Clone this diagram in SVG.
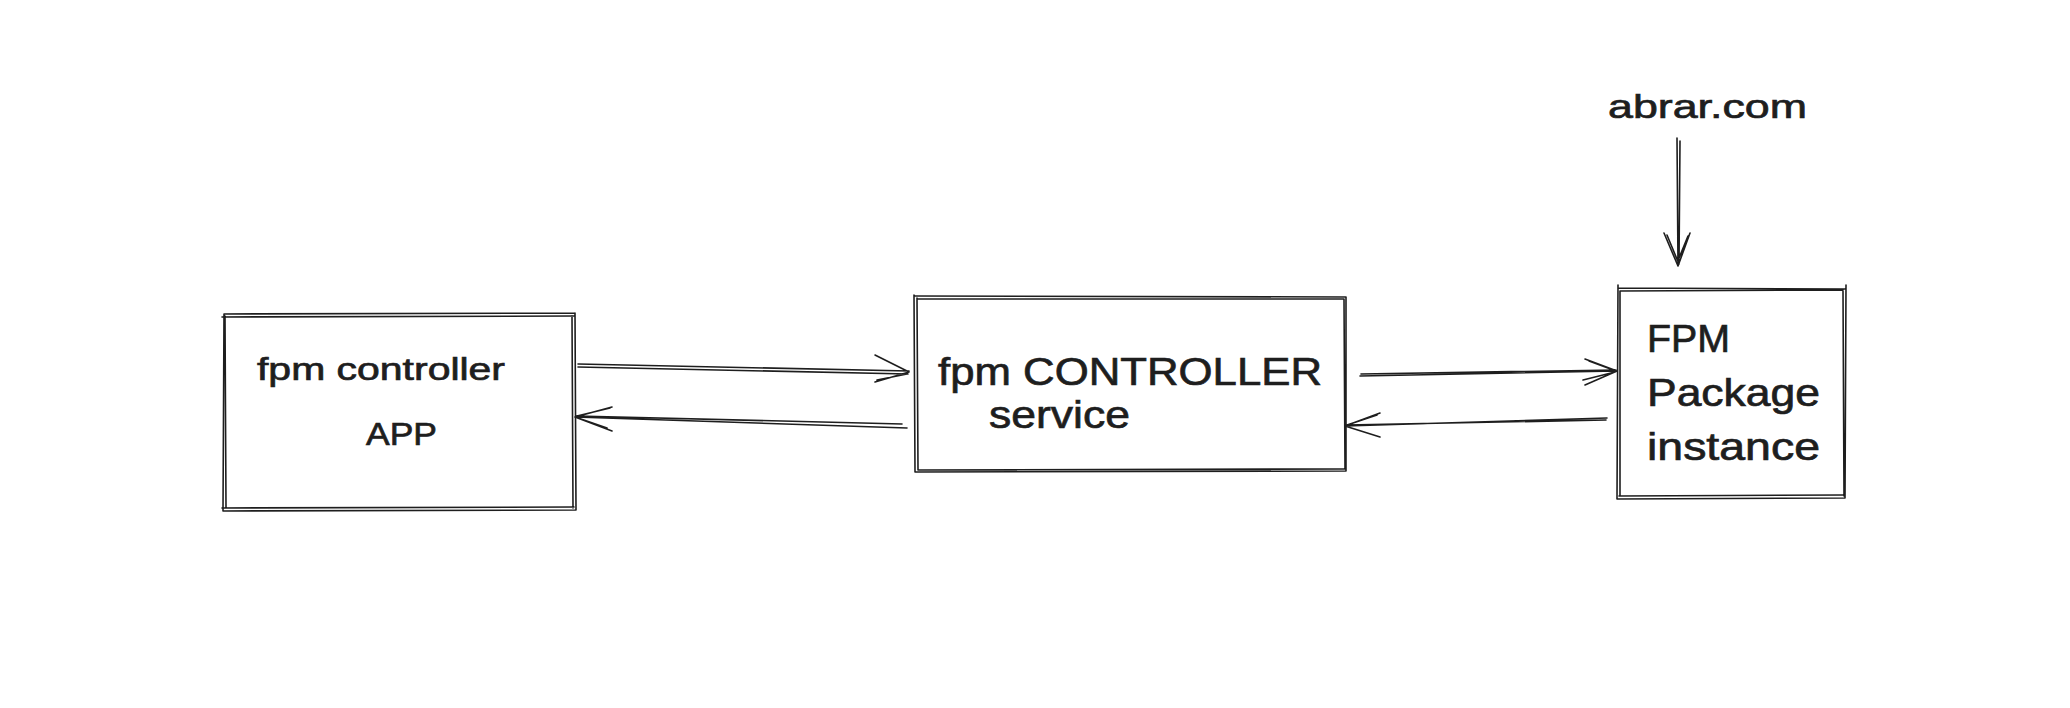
<svg xmlns="http://www.w3.org/2000/svg" width="2070" height="708" viewBox="0 0 2070 708">
<style>
.s{fill:none;stroke:#1e1e1e;stroke-width:1.6;stroke-linecap:round;stroke-linejoin:round}
.t{font-family:"Liberation Sans","DejaVu Sans",sans-serif;fill:#1e1e1e;stroke:#1e1e1e;stroke-width:0.7}
</style>
<rect x="0" y="0" width="2070" height="708" fill="#ffffff"/>
<g id="node-app">
<path class="s" d="M224 314 L575 313 M222 317 L574 316 M575 313 L576 510 M572 316 L573 508 M576 510 L223 511 M574 507 L222 508 M223 511 L224 314 M226 508 L225 316"/>
<text class="t" x="257" y="380" font-size="31" textLength="248" lengthAdjust="spacingAndGlyphs">fpm controller</text>
<text class="t" x="366" y="445" font-size="32" textLength="71" lengthAdjust="spacingAndGlyphs">APP</text>
</g>
<g id="node-service">
<path class="s" d="M915 296 L1346 297 M917 299 L1344 299 M1346 297 L1346 471 M1344 299 L1345 469 M1346 471 L916 472 M1344 469 L918 470 M915 472 L914 295 M918 470 L917 298"/>
<text class="t" x="938" y="385" font-size="39" textLength="384" lengthAdjust="spacingAndGlyphs">fpm CONTROLLER</text>
<text class="t" x="989" y="428" font-size="39" textLength="141" lengthAdjust="spacingAndGlyphs">service</text>
</g>
<g id="node-package">
<path class="s" d="M1618 288 L1845 289 M1620 291 L1843 290 M1846 285 L1845 498 M1843 291 L1844 496 M1845 498 L1617 499 M1843 495 L1619 496 M1617 499 L1618 285 M1620 496 L1620 291"/>
<text class="t" x="1647" y="352" font-size="38" textLength="83" lengthAdjust="spacingAndGlyphs">FPM</text>
<text class="t" x="1647" y="406" font-size="38" textLength="173" lengthAdjust="spacingAndGlyphs">Package</text>
<text class="t" x="1647" y="460" font-size="38" textLength="173" lengthAdjust="spacingAndGlyphs">instance</text>
</g>
<g id="node-abrar">
<text class="t" x="1608" y="118" font-size="34" textLength="199" lengthAdjust="spacingAndGlyphs">abrar.com</text>
</g>
<g id="connectors">
<path class="s" d="M578 364 L909 371 M578 367 L908 374 M875 355 L909 372 M879 357 L907 371 M875 382 L909 372 M877 380 L907 374"/>
<path class="s" d="M907 428 L575 417 M902 424 L576 416 M612 407 L575 417 M610 408 L577 416 M612 431 L575 417 M607 428 L578 418"/>
<path class="s" d="M1360 376 L1617 371 M1361 374 L1616 370 M1585 359 L1617 371 M1589 361 L1616 371 M1585 385 L1617 371 M1583 380 L1615 372"/>
<path class="s" d="M1607 418 L1345 426 M1606 420 L1346 425 M1380 413 L1345 426 M1377 415 L1347 425 M1380 437 L1345 426"/>
<path class="s" d="M1677 138 L1678 266 M1680 141 L1679 264 M1664 233 L1678 266 M1667 235 L1679 264 M1690 233 L1678 266 M1688 236 L1677 263"/>
</g>
</svg>
